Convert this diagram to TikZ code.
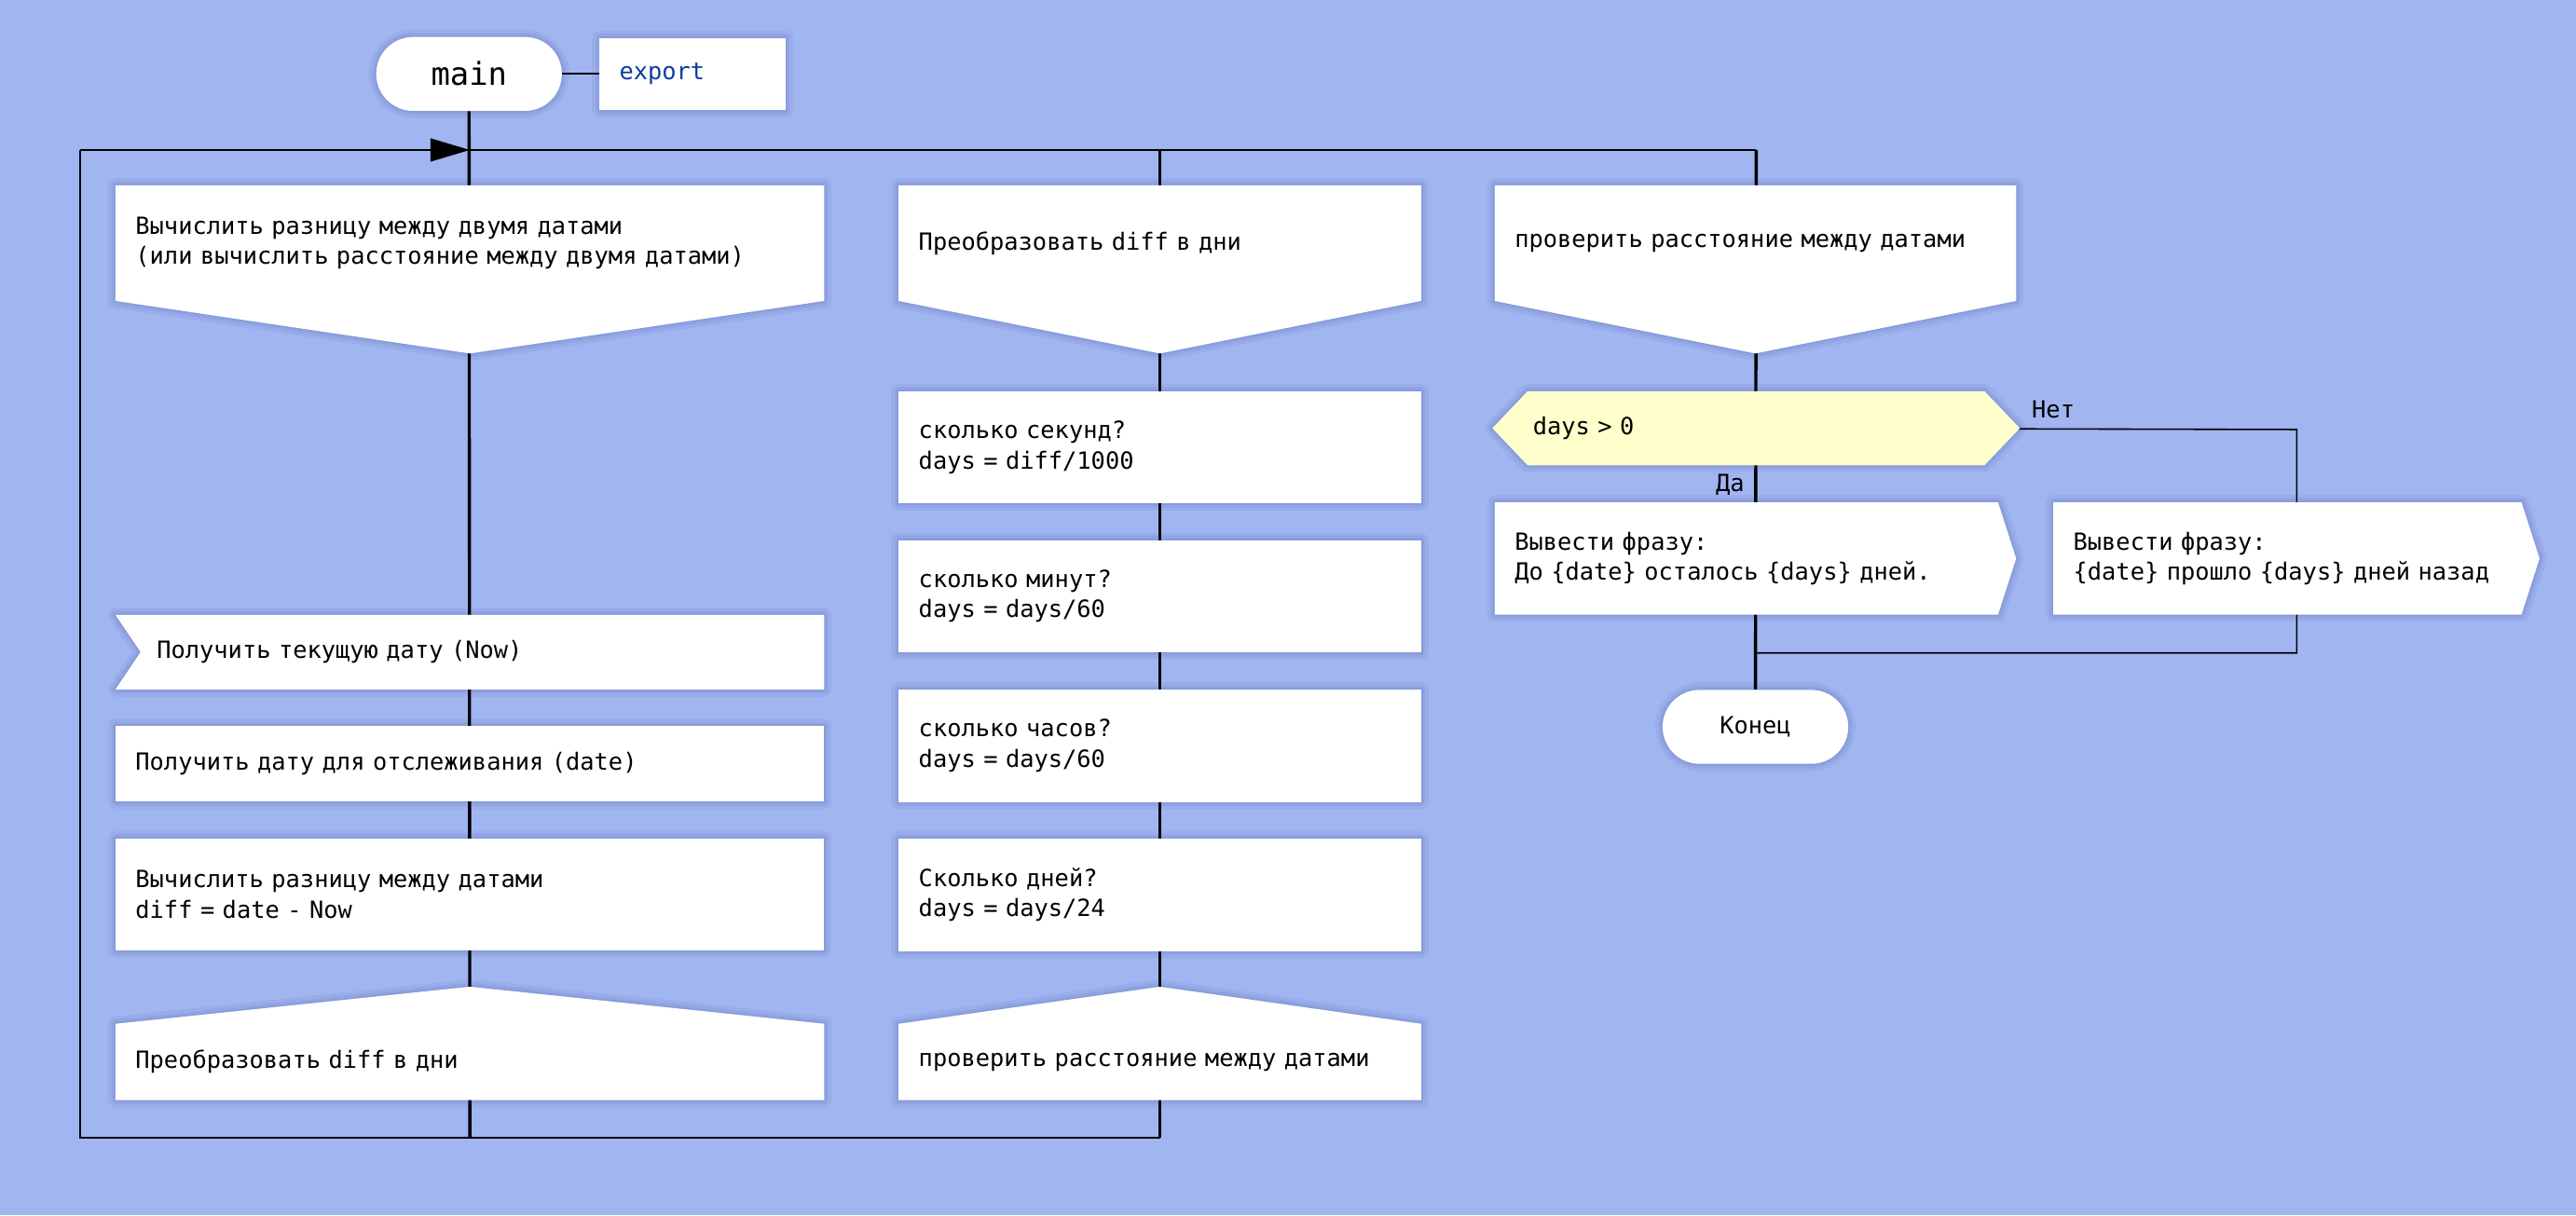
\documentclass[tikz,border=0pt]{standalone}
\usepackage{fontspec}
\setmonofont{DejaVu Sans Mono}
\usetikzlibrary{arrows.meta,calc}

\pgfdeclarelayer{back}
\pgfdeclarelayer{lines}
\pgfdeclarelayer{shapes}
\pgfsetlayers{back,lines,shapes,main}

\definecolor{drkbg}{RGB}{161,181,241}
\definecolor{qyellow}{RGB}{255,255,204}
\definecolor{kwblue}{RGB}{13,60,160}
\definecolor{shadowc}{RGB}{40,55,130}

\newcommand{\boxfont}{\ttfamily\fontsize{14.4}{18.4}\selectfont}

\tikzset{
  boxfill/.style={fill=white,
      preaction={draw=shadowc, draw opacity=0.06, line width=9pt, line join=round},
      preaction={draw=shadowc, draw opacity=0.07, line width=5pt, line join=round},
      preaction={draw=shadowc, draw opacity=0.08, line width=2pt, line join=round}},
  box/.style={inner xsep=12pt, inner ysep=0pt, align=left, font=\boxfont, minimum height=68pt},
  capsule/.style={boxfill, inner sep=0pt, minimum width=113pt, minimum height=45pt,
      rounded corners=22.5pt, font=\boxfont},
  skewer/.style={line width=1.9pt},
  loopline/.style={line width=1.1pt},
  branch/.style={line width=0.9pt},
  lbl/.style={font=\boxfont, inner sep=0pt}
}

% shapes drawn behind the text of the named nodes
\newcommand{\actshape}[1]{\fill[boxfill] (#1.north west) rectangle (#1.south east);}
\newcommand{\hdrshape}[1]{\fill[boxfill] (#1.north west) -- (#1.north east) -- (#1.south east)
  -- ($(#1.south)+(0,32)$) -- (#1.south west) -- cycle;}
\newcommand{\adrshape}[1]{\fill[boxfill] (#1.south west) -- (#1.north west)
  -- ($(#1.north)+(0,-22.6)$) -- (#1.north east) -- (#1.south east) -- cycle;}
\newcommand{\inshape}[1]{\fill[boxfill] (#1.north west) -- (#1.north east) -- (#1.south east)
  -- (#1.south west) -- ($(#1.west)+(15.3,0)$) -- cycle;}
\newcommand{\outshape}[1]{\fill[boxfill] (#1.north west) -- (#1.north east)
  -- ($(#1.east)+(11,0)$) -- (#1.south east) -- (#1.south west) -- cycle;}
\newcommand{\qshape}[1]{\fill[boxfill, fill=qyellow] ($(#1.west)+(-21.5,0)$) -- (#1.north west)
  -- (#1.north east) -- ($(#1.east)+(21.5,0)$) -- (#1.south east) -- (#1.south west) -- cycle;}

\begin{document}
\begin{tikzpicture}[x=1pt, y=-1pt]
    \useasboundingbox (0,0) rectangle (1568,740);
    \begin{pgfonlayer}{back}
        \fill[drkbg] (0,0) rectangle (1568,740);
    \end{pgfonlayer}

    % title
    \node[capsule, font=\ttfamily\fontsize{19.2}{23}\selectfont] (main) at (285.5,45) {main};
    \node[boxfill, box, minimum height=44pt, text width=89pt, text=kwblue] (exp) at (421.5,45) {export};

    % column 1
    \node[box, minimum height=70pt, text width=407pt] (h1) at (286,148)
        {Вычислить разницу между двумя датами\\(или вычислить расстояние между двумя датами)};
    \node[box, minimum height=45pt, inner xsep=25pt, text width=381pt] (in1) at (286,397)
        {Получить текущую дату (Now)};
    \node[box, minimum height=45.5pt, text width=407pt] (a2) at (286,465)
        {Получить дату для отслеживания (date)};
    \node[box, text width=407pt] (a3) at (286,544.6)
        {Вычислить разницу между датами\\diff = date - Now};
    \node[box, minimum height=46pt, text width=407pt] (adr1) at (286,646.5)
        {Преобразовать diff в дни};

    % column 2
    \node[box, minimum height=70pt, text width=293.6pt] (h2) at (706,148) {Преобразовать diff в дни};
    \node[box, text width=293.6pt] (b1) at (706,272.3) {сколько секунд?\\days = diff/1000};
    \node[box, text width=293.6pt] (b2) at (706,363) {сколько минут?\\days = days/60};
    \node[box, text width=293.6pt] (b3) at (706,454) {сколько часов?\\days = days/60};
    \node[box, text width=293.6pt] (b4) at (706,544.8) {Сколько дней?\\days = days/24};
    \node[box, minimum height=46pt, text width=293.6pt] (adr2) at (706,646.5)
        {проверить расстояние между датами};

    % column 3
    \node[box, minimum height=70pt, text width=293pt] (h3) at (1068.5,148)
        {проверить расстояние между датами};
    \node[box, minimum height=44.7pt, inner xsep=3pt, text width=271.7pt] (q) at (1068.9,260.7) {days > 0};
    \node[box, text width=282pt] (o1) at (1063,340) {Вывести фразу:\\До \{date\} осталось \{days\} дней.};
    \node[box, text width=260.6pt] (o2) at (1392.3,340)
        {Вывести фразу:\\\mbox{\{date\} прошло \{days\} дней назад}};
    \node[capsule] (endc) at (1068.5,442.5) {Конец};

    \node[lbl, anchor=west] (net) at (1236.6,249) {Нет};
    \node[lbl, anchor=east] (da) at (1062,295) {Да};

    \begin{pgfonlayer}{shapes}
        \hdrshape{h1} \inshape{in1} \actshape{a2} \actshape{a3} \adrshape{adr1}
        \hdrshape{h2} \actshape{b1} \actshape{b2} \actshape{b3} \actshape{b4} \adrshape{adr2}
        \hdrshape{h3} \qshape{q} \outshape{o1} \outshape{o2}
    \end{pgfonlayer}

    \coordinate (topL) at (48.9,91.3);
    \coordinate (top1) at (286,91.3);
    \coordinate (top2) at (706,91.3);
    \coordinate (top3) at (1069,91.3);
    \coordinate (botL) at (48.9,692.6);
    \coordinate (bot1) at (286,692.6);
    \coordinate (bot2) at (706,692.6);
    \coordinate (nc) at (1398,261.5);
    \coordinate (jn) at (1398,397.5);
    \coordinate (jm) at (1069,397.5);

    \begin{pgfonlayer}{lines}
        \draw[skewer] (main) -- (bot1);
        \draw[skewer] (top2) -- (bot2);
        \draw[skewer] (top3) -- (endc);
        \draw[loopline] (bot2) -- (botL) -- (topL);
        \draw[loopline, -{Triangle[length=24pt, width=14pt]}] (topL) -- (top1);
        \draw[loopline] (top1) -- (top3);
        \draw[branch] (q) -- (nc) -- (jn) -- (jm);
        \draw[loopline] (main) -- (exp);
    \end{pgfonlayer}
\end{tikzpicture}
\end{document}
